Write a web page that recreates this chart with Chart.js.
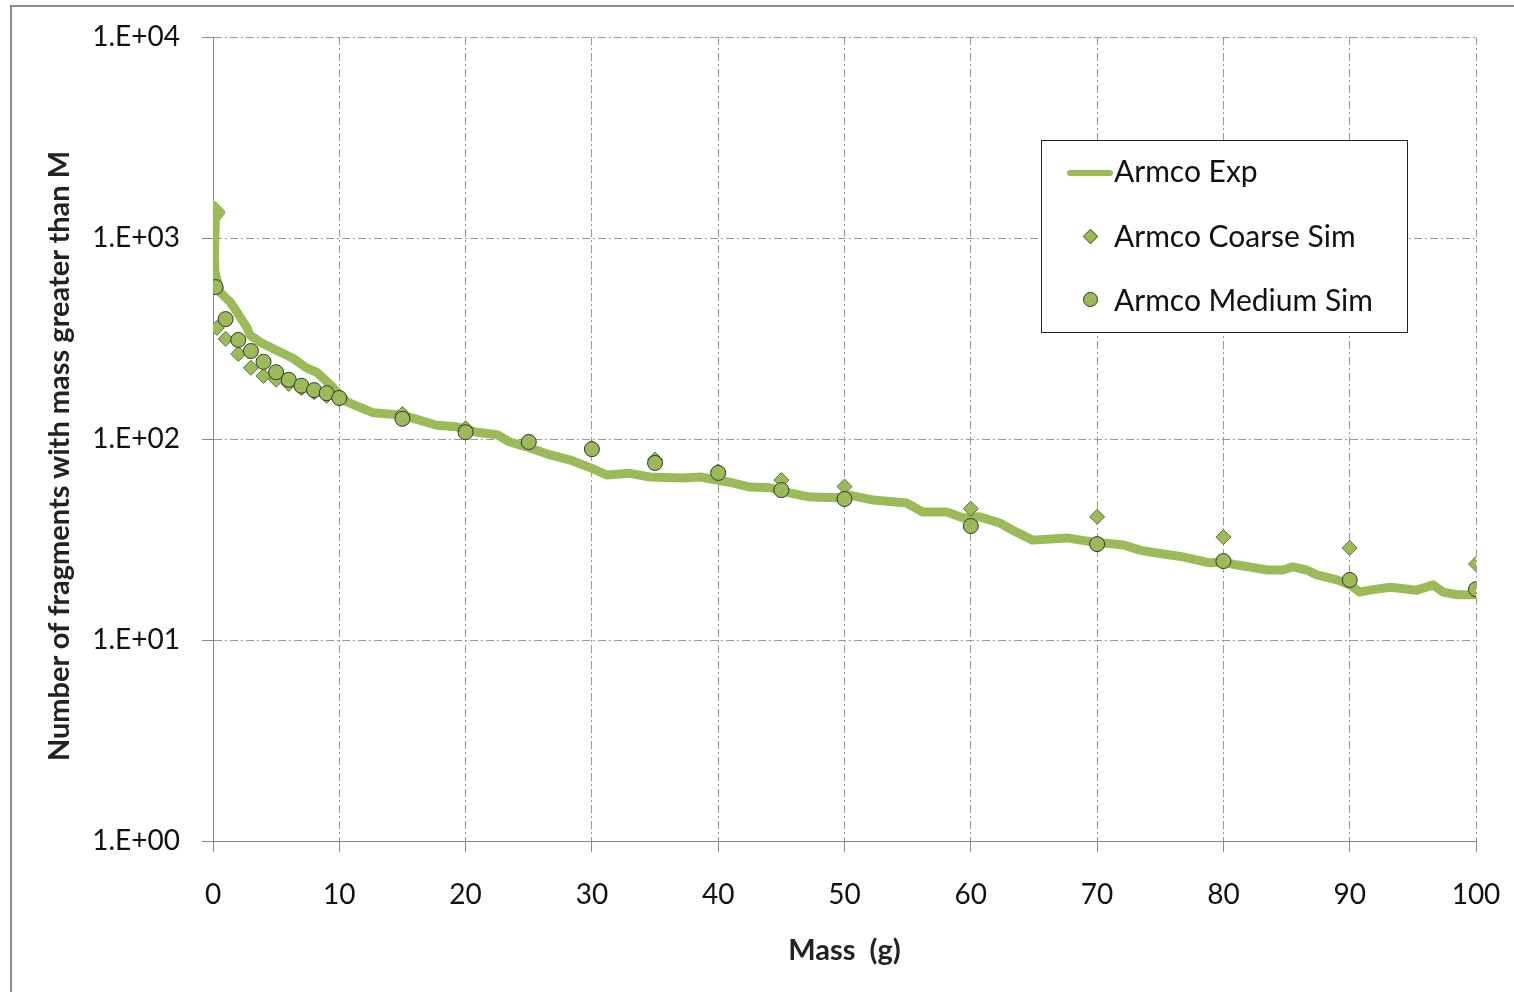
<!DOCTYPE html>
<html>
<head>
<meta charset="utf-8">
<script src="https://cdn.jsdelivr.net/npm/chart.js@4.4.0/dist/chart.umd.min.js"></script>
<style>
  body { margin: 0; background: #fff; }
  #wrap { position: relative; width: 1514px; height: 992px; overflow: hidden; }
  #frame { position: absolute; left: 10px; top: 5px; width: 1504px; height: 1000px; border: 2px solid #8c8c8c; border-bottom: none; border-right: none; box-sizing: border-box; }
  #legend { position: absolute; left: 1041px; top: 140px; width: 367px; height: 193px; border: 1px solid #222; background: #fff; box-sizing: border-box; font-family: Lato, "Open Sans", sans-serif; font-size: 30px; line-height: 36px; color: #111; }
  .item { position: absolute; left: 72px; white-space: nowrap; }
  .sw { position: absolute; }
  #ytitle { position: absolute; left: 57px; top: 456px; transform: translate(-50%, -50%) rotate(-90deg); white-space: nowrap; font-family: Lato, "Open Sans", sans-serif; font-size: 29px; font-weight: bold; color: #222; }
</style>
</head>
<body>
<div id="wrap">
  <div id="frame"></div>
  <canvas id="chart" width="1514" height="992"></canvas>
  <div id="ytitle">Number of fragments with mass greater than M</div>
  <div id="legend">
    <div class="sw" style="left:25px;top:29px;width:46px;height:6px;border-radius:3px;background:#9bbb59"></div>
    <div class="item" style="top:11px">Armco Exp</div>
    <div class="sw" style="left:43px;top:90px;width:9px;height:9px;background:#9bbb59;border:1px solid #5f6f40;transform:rotate(45deg)"></div>
    <div class="item" style="top:76px">Armco Coarse Sim</div>
    <div class="sw" style="left:41px;top:151px;width:13px;height:13px;border-radius:50%;background:#9bbb59;border:1px solid #333"></div>
    <div class="item" style="top:140px">Armco Medium Sim</div>
  </div>
</div>
<script>
// experimental curve (mass g, count)
const expMass = [0.05, 0.6, 0.2, 0.1, 0.16, 0.55, 1.35, 1.9, 2.7, 2.93, 3.7, 5.3, 6.3, 7.4, 8.2, 9.3, 10.6, 11.6, 12.7, 14.6, 15.8, 17.7, 19.3, 20.9, 22.5, 23.5, 25.1, 26.7, 28.3, 29.9, 31.2, 33, 34.6, 37.2, 38.6, 39.9, 41.2, 42.5, 44.1, 45.7, 47.3, 49.4, 50.4, 52.3, 54.9, 56.2, 58.1, 59.4, 60.7, 62.3, 63.3, 64.9, 67.6, 69.7, 72.1, 73.4, 74.2, 75.8, 76.8, 78.9, 80, 81.1, 83.5, 84.7, 85.5, 86.6, 87.4, 89, 90, 90.8, 91.6, 93.2, 95.3, 96.6, 97.4, 98.5, 99.9];
const expCount = [1450, 1340, 1250, 800, 678, 538, 481, 428, 357, 329, 304, 271, 253, 226, 215, 186, 153, 144, 135, 132, 127, 117, 115, 108, 105, 96.6, 90.2, 83.3, 78.6, 71.8, 66.2, 67.5, 64.7, 64, 64.7, 62.5, 60.4, 57.7, 57.2, 53.8, 51.4, 51, 52.6, 49.7, 48, 43.3, 43.3, 40.5, 41, 38.2, 35.2, 31.4, 32.2, 30.7, 29.7, 28, 27.4, 26.5, 25.9, 24.2, 24.4, 23.6, 22.3, 22.3, 23.1, 22.3, 21.1, 19.9, 18.8, 17.3, 17.7, 18.3, 17.7, 18.8, 17.3, 16.8, 16.8];

const coarseMass = [0.3, 1, 2, 3, 4, 5, 6, 7, 8, 9, 10, 15, 20, 25, 30, 35, 40, 45, 50, 60, 70, 80, 90, 100];
const coarseCount = [357, 315, 265, 226, 206, 197, 188, 179, 171, 164, 158, 133, 113, 97, 90, 79, 69, 62.5, 58, 45, 41, 32.5, 28.7, 23.9];

const mediumMass = [0.2, 1, 2, 3, 4, 5, 6, 7, 8, 9, 10, 15, 20, 25, 30, 35, 40, 45, 50, 60, 70, 80, 90, 100];
const mediumCount = [570, 395, 311, 274, 242, 215, 197, 184, 175, 169, 160, 126, 108, 96.6, 89, 76, 67.8, 55.7, 50.3, 36.9, 30, 24.7, 19.9, 17.9];

const yTicks = [1, 10, 100, 1000, 10000];

const green = "#9bbb59";
const toXY = (xs, ys) => xs.map((x, i) => ({ x: x, y: ys[i] }));
const font = "Lato, 'Open Sans', sans-serif";
const dash = [8, 3, 2, 3];

new Chart(document.getElementById("chart"), {
  type: "scatter",
  data: {
    datasets: [
      { label: "Armco Exp", data: toXY(expMass, expCount), showLine: true, borderColor: green, borderWidth: 9, pointRadius: 0, order: 3, borderJoinStyle: "round", borderCapStyle: "round" },
      { label: "Armco Coarse Sim", data: toXY(coarseMass, coarseCount), pointStyle: "rectRot", pointRadius: 7.5, backgroundColor: green, borderColor: "#5f6f40", borderWidth: 1, order: 2 },
      { label: "Armco Medium Sim", data: toXY(mediumMass, mediumCount), pointStyle: "circle", pointRadius: 7.5, backgroundColor: green, borderColor: "#333", borderWidth: 1, order: 1 }
    ]
  },
  options: {
    responsive: false,
    animation: false,
    layout: { padding: { left: 40, top: 37, right: 38, bottom: 20 } },
    plugins: { legend: { display: false }, tooltip: { enabled: false } },
    scales: {
      x: {
        type: "linear", min: 0, max: 100,
        ticks: { stepSize: 10, color: "#111", font: { family: font, size: 28 }, padding: 26 },
        grid: { color: "#999", tickLength: 11, tickColor: "#888", tickBorderDash: [] },
        border: { color: "#888", width: 1, dash: dash },
        title: { display: true, text: "Mass  (g)", color: "#222", font: { family: font, size: 29, weight: "bold" }, padding: { top: 0 } },
        afterFit: s => { s.height = 131; s.paddingLeft = 0; s.paddingRight = 0; }
      },
      y: {
        type: "logarithmic", min: 1, max: 10000,
        afterBuildTicks: s => { s.ticks = yTicks.map(v => ({ value: v })); },
        ticks: { color: "#111", font: { family: font, size: 28 }, padding: 22,
          callback: v => { const e = Math.round(Math.log10(v)); return "1.E+" + String(e).padStart(2, "0"); } },
        grid: { color: "#999", tickLength: 11, tickColor: "#888", tickBorderDash: [] },
        border: { color: "#888", width: 1, dash: dash },
        afterFit: s => { s.width = 173; s.paddingTop = 0; s.paddingBottom = 0; }
      }
    }
  }
});
</script>
</body>
</html>
